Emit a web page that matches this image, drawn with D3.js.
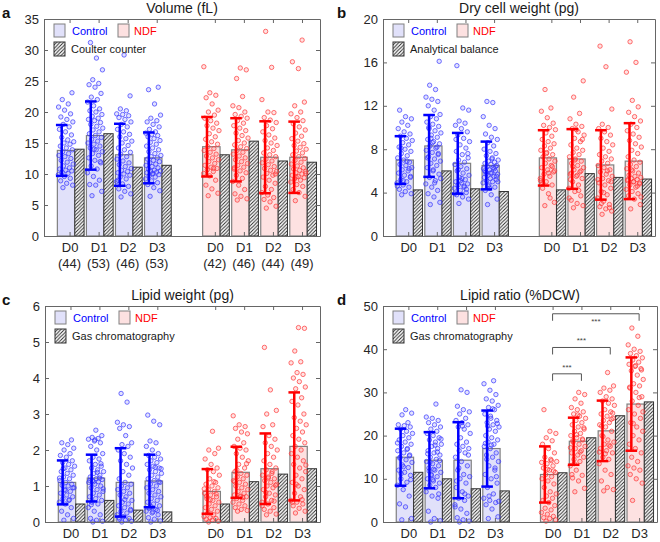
<!DOCTYPE html>
<html>
<head>
<meta charset="utf-8">
<script src="https://cdn.jsdelivr.net/npm/d3@7"></script>
<style>
    body { margin: 0; background: #fff; }
    svg { font-family: "Liberation Sans", Arial, sans-serif; }
</style>
</head>
<body>
<div id="chart"></div>
<script>
(function () {

    // Categories (Control D0..D3, then NDF D0..D3)
    var days = ['D0', 'D1', 'D2', 'D3', 'D0', 'D1', 'D2', 'D3'];
    var cellCounts = [44, 53, 46, 53, 42, 46, 44, 49];

    // a - Volume (fL)
    var volMean = [13.8, 16.2, 13.1, 12.6, 14.4, 13.9, 12.7, 12.7];
    var volSd = [4.1, 5.5, 5.0, 4.1, 4.8, 5.1, 5.8, 5.75];
    var volBulk = [14.0, 16.5, 11.1, 11.4, 13.1, 15.3, 12.1, 11.9];
    var volDots = [
        [7.8, 8.2, 8.5, 8.9, 9.3, 9.6, 9.9, 10.1, 10.3, 10.5, 10.6, 10.8, 11.0, 11.3, 11.6, 11.9, 12.2, 12.5, 12.8, 13.0, 13.3, 13.6, 13.9, 14.2, 14.5, 14.8, 15.0, 15.2, 15.5, 15.9, 16.3, 16.8, 17.2, 17.6, 18.0, 18.4, 18.8, 19.2, 19.7, 20.3, 20.8, 21.3, 22.0, 23.1],
        [6.5, 7.2, 8.2, 8.3, 9.0, 9.6, 10.2, 10.8, 11.3, 11.8, 12.2, 12.6, 13.0, 13.3, 13.6, 13.9, 14.2, 14.5, 14.8, 15.0, 15.3, 15.6, 15.9, 16.2, 16.5, 16.8, 17.1, 17.4, 17.7, 18.0, 18.3, 18.6, 18.8, 19.0, 19.3, 19.6, 20.0, 20.2, 20.5, 21.0, 21.6, 22.0, 22.4, 23.0, 24.0, 24.4, 24.6, 25.2, 26.8, 28.7, 31.2, 12.0, 14.0],
        [6.3, 6.8, 7.2, 7.6, 8.0, 8.4, 8.8, 9.2, 9.5, 9.8, 10.0, 10.2, 10.4, 10.6, 10.9, 11.2, 11.5, 11.8, 12.1, 12.4, 12.8, 13.2, 13.5, 13.9, 14.2, 14.6, 15.0, 15.3, 15.7, 16.0, 16.4, 16.8, 17.2, 17.6, 18.0, 18.4, 18.8, 19.1, 19.4, 19.6, 19.7, 20.2, 20.5, 22.6, 29.2, 9.0],
        [6.4, 7.3, 7.8, 8.3, 8.6, 8.9, 9.2, 9.5, 9.7, 9.9, 10.1, 10.2, 10.3, 10.4, 10.5, 10.6, 10.8, 11.0, 11.2, 11.4, 11.6, 11.8, 12.0, 12.2, 12.4, 12.6, 12.8, 13.0, 13.3, 13.6, 13.9, 14.2, 14.5, 14.8, 15.1, 15.4, 15.7, 16.0, 16.2, 16.4, 16.6, 16.8, 17.2, 17.6, 18.0, 18.4, 18.6, 19.0, 19.5, 21.3, 23.6, 24.0, 10.0],
        [6.5, 6.9, 7.6, 8.2, 9.0, 9.7, 10.1, 10.4, 10.7, 10.9, 11.1, 11.4, 11.7, 12.0, 12.3, 12.6, 12.9, 13.2, 13.5, 13.8, 14.1, 14.4, 14.8, 15.2, 15.6, 16.0, 16.5, 17.0, 17.4, 17.8, 18.2, 18.6, 19.0, 19.5, 20.0, 20.3, 21.3, 22.3, 22.7, 23.1, 27.3, 10.9],
        [5.8, 6.0, 6.4, 6.8, 7.5, 8.2, 8.8, 9.3, 9.8, 10.2, 10.5, 10.8, 11.1, 11.4, 11.7, 12.0, 12.3, 12.6, 12.9, 13.2, 13.5, 13.8, 14.1, 14.4, 14.7, 15.0, 15.4, 15.8, 16.2, 16.6, 17.0, 17.4, 17.8, 18.2, 18.6, 19.0, 19.3, 19.6, 20.0, 20.7, 21.0, 22.5, 25.4, 26.8, 27.1, 11.0],
        [4.5, 4.8, 5.5, 5.9, 6.2, 6.6, 7.0, 7.5, 8.0, 8.5, 9.0, 9.5, 9.8, 10.1, 10.4, 10.6, 10.9, 11.2, 11.5, 11.8, 12.1, 12.4, 12.8, 13.1, 13.4, 13.8, 14.2, 14.6, 15.0, 15.4, 15.8, 16.3, 16.8, 17.3, 17.8, 18.3, 18.7, 19.1, 19.9, 20.0, 22.0, 27.2, 33.0, 10.0],
        [5.7, 6.4, 7.0, 7.5, 8.0, 8.3, 8.7, 9.0, 9.2, 9.4, 9.6, 9.8, 10.0, 10.2, 10.4, 10.6, 10.8, 11.0, 11.3, 11.6, 11.9, 12.2, 12.5, 12.8, 13.1, 13.4, 13.7, 14.0, 14.3, 14.6, 14.9, 15.3, 15.7, 16.1, 16.6, 17.1, 17.6, 18.1, 18.6, 19.1, 19.7, 20.0, 21.0, 21.6, 27.0, 28.1, 31.6, 9.5, 10.1]
    ];

    // b - Dry cell weight (pg)
    var dcwMean = [7.0, 8.3, 6.7, 6.5, 7.2, 7.1, 6.55, 6.9];
    var dcwSd = [2.2, 2.85, 2.8, 2.2, 2.55, 2.75, 3.2, 3.5];
    var dcwBulk = [4.25, 6.0, 4.35, 4.1, 4.25, 5.75, 5.4, 5.25];
    var dcwDots = [
        [3.8, 3.9, 4.1, 4.3, 4.5, 4.7, 4.9, 5.0, 5.2, 5.4, 5.6, 5.8, 6.0, 6.1, 6.3, 6.5, 6.6, 6.8, 7.0, 7.2, 7.4, 7.6, 7.8, 8.0, 8.2, 8.4, 8.6, 8.8, 9.0, 9.2, 9.4, 9.6, 9.9, 10.2, 10.5, 10.8, 11.0, 11.6, 6.2, 5.1, 4.6, 6.9, 8.1, 5.5],
        [2.9, 3.1, 3.6, 3.9, 4.2, 4.5, 4.8, 5.1, 5.4, 5.7, 6.0, 6.3, 6.5, 6.7, 6.9, 7.1, 7.3, 7.5, 7.7, 7.9, 8.1, 8.3, 8.5, 8.7, 8.9, 9.1, 9.3, 9.5, 9.7, 9.9, 10.1, 10.3, 10.5, 10.8, 11.0, 11.2, 11.6, 12.0, 12.4, 12.6, 12.8, 13.5, 13.9, 16.1, 6.1, 7.2, 8.2, 9.0, 5.3, 4.9, 10.0, 7.6, 8.6],
        [3.0, 3.4, 3.6, 3.8, 4.0, 4.2, 4.4, 4.6, 4.7, 4.8, 4.9, 5.0, 5.2, 5.4, 5.6, 5.8, 6.0, 6.2, 6.4, 6.6, 6.8, 7.0, 7.2, 7.5, 7.8, 8.1, 8.4, 8.7, 9.0, 9.3, 9.6, 9.9, 10.2, 10.4, 10.6, 11.6, 11.8, 15.7, 4.3, 5.1, 3.9, 4.5, 6.1, 7.6, 5.3, 8.9],
        [2.9, 3.4, 3.8, 4.2, 4.5, 4.7, 4.9, 5.0, 5.1, 5.2, 5.3, 5.4, 5.5, 5.6, 5.7, 5.8, 5.9, 6.0, 6.1, 6.2, 6.3, 6.4, 6.5, 6.6, 6.7, 6.8, 6.9, 7.0, 7.2, 7.4, 7.6, 7.8, 8.0, 8.3, 8.6, 8.9, 9.1, 9.4, 9.9, 10.2, 11.0, 12.3, 12.4, 5.5, 5.8, 6.0, 6.2, 4.6, 5.0, 7.1, 5.7, 6.4, 4.4],
        [2.8, 3.1, 3.9, 4.4, 4.7, 5.0, 5.3, 5.5, 5.7, 5.9, 6.1, 6.3, 6.5, 6.7, 6.9, 7.1, 7.3, 7.5, 7.7, 7.9, 8.1, 8.3, 8.5, 8.7, 8.9, 9.2, 9.5, 9.8, 10.0, 10.2, 10.4, 10.9, 11.5, 11.8, 13.5, 6.0, 5.8, 4.9, 6.4, 7.6, 5.1, 3.5],
        [2.6, 2.8, 3.0, 3.3, 3.7, 4.1, 4.4, 4.7, 5.0, 5.3, 5.5, 5.7, 5.9, 6.1, 6.3, 6.5, 6.7, 6.9, 7.1, 7.3, 7.5, 7.7, 7.9, 8.1, 8.4, 8.7, 9.0, 9.3, 9.6, 9.9, 10.1, 10.3, 10.8, 11.3, 12.8, 14.3, 5.6, 5.8, 6.0, 7.0, 3.5, 4.2, 6.4, 8.9, 9.8, 5.2],
        [2.0, 2.3, 2.5, 2.7, 2.9, 3.2, 3.5, 3.8, 4.1, 4.4, 4.7, 4.9, 5.1, 5.3, 5.5, 5.7, 5.9, 6.1, 6.3, 6.5, 6.7, 6.9, 7.1, 7.3, 7.5, 7.8, 8.1, 8.4, 8.7, 9.0, 9.3, 9.6, 9.9, 10.0, 10.3, 11.7, 15.6, 17.5, 2.6, 4.0, 5.2, 6.0, 3.0, 5.0],
        [2.5, 2.9, 3.4, 3.7, 3.9, 4.1, 4.3, 4.5, 4.7, 4.9, 5.0, 5.1, 5.2, 5.3, 5.4, 5.5, 5.6, 5.8, 6.0, 6.2, 6.4, 6.6, 6.8, 7.0, 7.3, 7.6, 7.9, 8.2, 8.5, 8.8, 9.1, 9.4, 9.7, 10.0, 10.3, 10.6, 11.0, 11.4, 11.9, 12.5, 15.1, 16.0, 17.9, 4.8, 5.0, 5.2, 4.6, 6.1, 3.6]
    ];

    // c - Lipid weight (pg)
    var lipMean = [1.1, 1.22, 1.1, 1.14, 0.85, 1.38, 1.48, 2.1];
    var lipSd = [0.61, 0.65, 0.95, 0.73, 0.62, 0.71, 0.98, 1.5];
    var lipBulk = [0.5, 0.6, 0.33, 0.28, 0.5, 1.12, 1.33, 1.48];
    var lipDots = [
        [0.05, 0.1, 0.2, 0.3, 0.4, 0.5, 0.55, 0.6, 0.65, 0.7, 0.75, 0.8, 0.85, 0.9, 0.95, 1.0, 1.02, 1.05, 1.1, 1.15, 1.2, 1.25, 1.3, 1.35, 1.4, 1.45, 1.5, 1.55, 1.6, 1.65, 1.7, 1.8, 1.85, 1.9, 2.0, 2.05, 2.15, 2.2, 2.28, 0.88, 1.22, 0.62, 1.48, 0.95],
        [0.0, 0.02, 0.05, 0.1, 0.2, 0.3, 0.4, 0.5, 0.55, 0.6, 0.65, 0.7, 0.75, 0.8, 0.85, 0.9, 0.95, 1.0, 1.05, 1.1, 1.12, 1.15, 1.18, 1.2, 1.25, 1.3, 1.35, 1.4, 1.45, 1.5, 1.55, 1.6, 1.7, 1.75, 1.8, 1.9, 2.0, 2.1, 2.2, 2.25, 2.3, 2.32, 2.35, 2.4, 2.55, 1.15, 1.22, 1.12, 0.92, 1.38, 0.48, 1.62, 2.28],
        [0.0, 0.02, 0.05, 0.08, 0.1, 0.15, 0.2, 0.25, 0.3, 0.35, 0.4, 0.45, 0.5, 0.55, 0.6, 0.7, 0.75, 0.8, 0.85, 0.9, 0.95, 1.0, 1.05, 1.1, 1.2, 1.3, 1.4, 1.5, 1.6, 1.7, 1.8, 1.9, 2.0, 2.1, 2.15, 2.2, 2.4, 2.6, 2.65, 2.7, 2.77, 3.33, 3.57, 0.32, 0.62, 0.12],
        [0.0, 0.03, 0.08, 0.12, 0.2, 0.25, 0.3, 0.35, 0.4, 0.45, 0.5, 0.55, 0.6, 0.65, 0.7, 0.75, 0.8, 0.85, 0.9, 0.95, 1.0, 1.05, 1.1, 1.15, 1.2, 1.25, 1.3, 1.35, 1.4, 1.45, 1.5, 1.55, 1.6, 1.65, 1.7, 1.75, 1.8, 1.85, 1.9, 2.0, 2.1, 2.2, 2.25, 2.7, 2.8, 2.97, 0.32, 0.42, 1.48, 1.52, 0.38, 1.12, 0.28],
        [0.0, 0.02, 0.05, 0.08, 0.1, 0.12, 0.15, 0.2, 0.25, 0.3, 0.35, 0.4, 0.45, 0.5, 0.55, 0.6, 0.65, 0.7, 0.75, 0.8, 0.85, 0.9, 0.95, 1.0, 1.05, 1.1, 1.2, 1.3, 1.4, 1.45, 1.5, 1.6, 1.75, 1.9, 2.0, 2.05, 2.52, 0.72, 0.78, 0.62, 0.92, 1.12],
        [0.3, 0.32, 0.35, 0.4, 0.45, 0.5, 0.55, 0.6, 0.65, 0.7, 0.72, 0.75, 0.8, 0.85, 0.9, 0.95, 1.0, 1.05, 1.1, 1.15, 1.2, 1.25, 1.3, 1.35, 1.4, 1.5, 1.6, 1.7, 1.8, 1.9, 2.0, 2.05, 2.1, 2.2, 2.3, 2.45, 2.5, 2.6, 2.65, 2.7, 2.95, 0.68, 1.45, 1.62, 0.7, 1.12],
        [0.2, 0.22, 0.3, 0.35, 0.4, 0.5, 0.55, 0.6, 0.7, 0.75, 0.8, 0.9, 0.95, 1.0, 1.05, 1.1, 1.15, 1.2, 1.25, 1.3, 1.4, 1.45, 1.5, 1.6, 1.7, 1.8, 1.9, 2.0, 2.1, 2.2, 2.3, 2.4, 2.65, 2.7, 3.0, 3.1, 3.67, 4.85, 0.58, 1.22, 0.45, 1.35, 0.82, 1.02],
        [0.25, 0.3, 0.38, 0.45, 0.5, 0.55, 0.6, 0.7, 0.8, 0.9, 1.0, 1.1, 1.2, 1.3, 1.4, 1.5, 1.6, 1.7, 1.8, 1.9, 2.0, 2.1, 2.2, 2.3, 2.4, 2.5, 2.6, 2.7, 2.8, 2.9, 3.0, 3.25, 3.35, 3.45, 3.7, 3.75, 3.9, 4.0, 4.1, 4.15, 4.42, 4.45, 4.75, 5.38, 5.4, 0.55, 0.62, 1.05, 1.58]
    ];

    // d - Lipid ratio (%DCW)
    var ratMean = [15.0, 14.3, 14.3, 17.0, 11.0, 18.7, 21.1, 27.3];
    var ratSd = [6.6, 6.5, 8.8, 8.8, 6.5, 5.45, 7.0, 10.8];
    var ratBulk = [11.5, 10.0, 7.7, 7.2, 11.4, 19.5, 24.6, 27.8];
    var ratDots = [
        [0.5, 0.8, 3.5, 4.2, 6.0, 7.5, 8.5, 9.2, 10.0, 10.8, 11.5, 12.0, 12.6, 13.2, 13.8, 14.4, 15.0, 15.5, 16.0, 16.5, 17.0, 17.5, 18.0, 18.5, 19.0, 19.5, 20.0, 20.5, 21.0, 21.5, 22.0, 22.3, 22.5, 23.0, 24.8, 25.2, 26.0, 14.8, 15.3, 12.8, 18.3, 16.8, 11.2, 9.8],
        [0.0, 0.3, 0.8, 2.5, 5.5, 6.0, 7.0, 8.0, 8.5, 9.0, 9.5, 10.0, 10.5, 11.0, 11.5, 12.0, 12.5, 13.0, 13.5, 14.0, 14.5, 15.0, 15.5, 16.0, 16.5, 17.0, 17.5, 18.0, 18.5, 19.0, 19.5, 20.0, 20.5, 21.0, 21.5, 22.0, 22.5, 23.0, 23.5, 24.0, 24.3, 27.3, 13.8, 14.2, 12.2, 15.8, 16.2, 10.8, 19.2, 17.8, 11.8, 6.5, 9.8],
        [0.0, 0.2, 0.5, 1.0, 2.0, 3.0, 4.0, 5.0, 5.5, 6.0, 7.0, 8.0, 9.0, 10.0, 10.5, 11.0, 12.0, 13.0, 14.0, 15.0, 16.0, 16.5, 17.0, 17.5, 18.0, 18.5, 19.5, 20.5, 21.5, 22.0, 22.5, 23.0, 23.5, 24.0, 25.0, 25.5, 26.0, 26.8, 30.0, 30.6, 3.5, 6.5, 12.5, 15.5, 22.2, 9.5],
        [0.8, 1.2, 3.0, 4.0, 4.5, 5.0, 5.5, 6.5, 8.0, 9.0, 10.0, 11.0, 12.0, 13.0, 14.0, 15.0, 15.5, 16.0, 17.0, 17.5, 18.0, 18.5, 19.0, 19.5, 20.0, 21.0, 21.5, 22.0, 22.5, 23.0, 23.5, 24.0, 25.0, 26.0, 26.5, 27.0, 28.0, 28.5, 29.5, 30.5, 32.0, 32.7, 22.2, 22.8, 17.8, 18.2, 12.5, 6.0, 4.8, 26.2, 14.5, 10.5, 24.5],
        [0.2, 0.5, 0.8, 1.0, 1.3, 1.8, 2.2, 2.8, 3.2, 3.8, 4.5, 5.0, 5.5, 6.0, 6.5, 7.0, 8.0, 8.8, 9.5, 10.0, 10.5, 11.0, 11.5, 12.0, 12.5, 13.0, 13.5, 14.0, 14.5, 15.0, 16.0, 17.0, 18.0, 18.8, 19.5, 20.5, 21.0, 26.0, 11.8, 12.2, 13.8, 14.2],
        [7.0, 7.8, 9.5, 10.2, 10.8, 12.0, 13.0, 14.0, 14.5, 15.0, 15.5, 16.0, 16.5, 17.0, 17.5, 18.0, 18.5, 19.0, 19.5, 20.0, 20.5, 21.0, 21.5, 22.0, 22.5, 23.0, 23.5, 24.0, 24.5, 25.0, 25.5, 26.0, 26.5, 27.5, 28.5, 29.5, 30.0, 18.8, 19.2, 20.2, 17.2, 16.2, 13.5, 21.8, 24.8, 11.0],
        [7.2, 7.5, 8.0, 9.5, 11.0, 12.0, 13.5, 14.5, 15.0, 16.0, 16.5, 17.0, 17.5, 18.0, 18.5, 19.0, 20.0, 21.0, 22.0, 22.5, 23.0, 23.5, 24.0, 24.5, 25.0, 25.5, 26.0, 27.0, 27.5, 28.0, 28.5, 29.0, 30.0, 30.5, 31.0, 31.5, 34.6, 22.2, 23.8, 15.8, 16.2, 17.8, 19.8, 25.2],
        [5.0, 9.0, 10.0, 11.0, 12.0, 12.5, 13.0, 14.0, 15.0, 16.0, 17.0, 18.0, 19.0, 20.0, 21.0, 22.0, 23.0, 24.0, 25.0, 26.0, 27.0, 28.0, 29.0, 30.0, 31.0, 31.5, 32.0, 33.0, 34.0, 35.0, 35.5, 36.0, 36.5, 37.0, 37.5, 38.0, 38.5, 39.0, 39.5, 40.0, 41.0, 43.0, 44.9, 35.2, 36.2, 31.2, 28.8, 22.8, 25.5]
    ];

    // significance brackets in d: [from, to, height, label]
    var ratSig = [[4, 5, 34.3, '***'], [4, 6, 40.4, '***'], [4, 7, 48.2, '***']];

    // x positions of the eight bars (gap between the two groups)
    var pos = [1, 2, 3, 4, 6, 7, 8, 9];

    // colours
    var barFill = ['#e1e1fa', '#fde1e1'];
    var lineCol = ['#0000ff', '#ff0000'];
    var dotCol = ['#3a3aff', '#ff3a3a'];

    var panels = [
        {letter: 'a', title: 'Volume (fL)', method: 'Coulter counter',
         left: 44, right: 320, top: 19, bottom: 236, ymax: 35, ticks: d3.range(0, 36, 5),
         mean: volMean, sd: volSd, bulk: volBulk, dots: volDots, counts: true},
        {letter: 'b', title: 'Dry cell weight (pg)', method: 'Analytical balance',
         left: 383, right: 655, top: 19, bottom: 236, ymax: 20, ticks: d3.range(0, 21, 4),
         mean: dcwMean, sd: dcwSd, bulk: dcwBulk, dots: dcwDots},
        {letter: 'c', title: 'Lipid weight (pg)', method: 'Gas chromatography',
         left: 45, right: 320, top: 306, bottom: 522, ymax: 6, ticks: d3.range(0, 7, 1),
         mean: lipMean, sd: lipSd, bulk: lipBulk, dots: lipDots},
        {letter: 'd', title: 'Lipid ratio (%DCW)', method: 'Gas chromatography',
         left: 383, right: 657, top: 306, bottom: 522, ymax: 50, ticks: d3.range(0, 51, 10),
         mean: ratMean, sd: ratSd, bulk: ratBulk, dots: ratDots, sig: ratSig}
    ];

    // Create a root <svg> element
    var svg = d3.select('#chart')
        .append('svg')
        .attr('width', 660)
        .attr('height', 542);

    // hatch pattern for the bulk measurement bars
    var pat = svg.append('defs')
        .append('pattern')
        .attr('id', 'hatch')
        .attr('patternUnits', 'userSpaceOnUse')
        .attr('width', 3.5)
        .attr('height', 3.5);
    pat.append('rect').attr('width', 3.5).attr('height', 3.5).attr('fill', '#fff');
    pat.append('path')
        .attr('d', 'M-1,1 l2,-2 M0,3.5 l3.5,-3.5 M2.5,4.5 l2,-2')
        .attr('stroke', '#222')
        .attr('stroke-width', 0.9);

    var drawPanel = function (p) {
        var x = d3.scaleLinear().domain([0.12, 9.62]).range([p.left, p.right]);
        var y = d3.scaleLinear().domain([0, p.ymax]).range([p.bottom, p.top]);
        var g = svg.append('g');
        var grp = function (i) { return i < 4 ? 0 : 1; };

        // mean bars
        g.selectAll('rect.mean')
            .data(p.mean)
            .enter()
            .append('rect')
            .attr('x', function (d, i) { return x(pos[i] - 0.42); })
            .attr('width', x(0.6) - x(0))
            .attr('y', function (d) { return y(d); })
            .attr('height', function (d) { return y(0) - y(d); })
            .attr('fill', function (d, i) { return barFill[grp(i)]; })
            .attr('stroke', '#808080')
            .attr('stroke-width', 1.2);

        // bulk bars
        g.selectAll('rect.bulk')
            .data(p.bulk)
            .enter()
            .append('rect')
            .attr('x', function (d, i) { return x(pos[i] + 0.18); })
            .attr('width', x(0.32) - x(0))
            .attr('y', function (d) { return y(d); })
            .attr('height', function (d) { return y(0) - y(d); })
            .attr('fill', 'url(#hatch)')
            .attr('stroke', '#333')
            .attr('stroke-width', 1);

        // single cell dots (spread across the mean bar)
        p.dots.forEach(function (vals, i) {
            g.append('g')
                .selectAll('circle')
                .data(vals)
                .enter()
                .append('circle')
                .attr('cx', function (d, k) { return x(pos[i] - 0.12 + 0.27 * (((k * 0.618034 + 0.3) % 1) * 2 - 1)); })
                .attr('cy', function (d) { return y(d); })
                .attr('r', 2.2)
                .attr('fill', dotCol[grp(i)])
                .attr('fill-opacity', 0.15)
                .attr('stroke', dotCol[grp(i)])
                .attr('stroke-opacity', 0.8)
                .attr('stroke-width', 0.9);
        });

        // error bars (mean +- sd)
        p.mean.forEach(function (m, i) {
            var ex = x(pos[i] - 0.27);
            var col = lineCol[grp(i)];
            var lo = Math.max(0, m - p.sd[i]);
            var hi = m + p.sd[i];
            var eb = g.append('g')
                .attr('stroke', col)
                .attr('stroke-width', 2.5);
            eb.append('line').attr('x1', ex).attr('x2', ex).attr('y1', y(lo)).attr('y2', y(hi));
            eb.append('line').attr('x1', ex - 5.8).attr('x2', ex + 5.8).attr('y1', y(lo)).attr('y2', y(lo));
            eb.append('line').attr('x1', ex - 5.8).attr('x2', ex + 5.8).attr('y1', y(hi)).attr('y2', y(hi));
        });

        // significance brackets
        if (p.sig) {
            p.sig.forEach(function (s) {
                var x1 = x(pos[s[0]]);
                var x2 = x(pos[s[1]]);
                var yy = y(s[2]);
                g.append('path')
                    .attr('d', 'M' + x1 + ',' + (yy + 7) + 'V' + yy + 'H' + x2 + 'V' + (yy + 7))
                    .attr('fill', 'none')
                    .attr('stroke', '#555')
                    .attr('stroke-width', 1);
                var below = yy - 12 < p.top;
                g.append('text')
                    .attr('x', (x1 + x2) / 2)
                    .attr('y', below ? yy + 10 : yy - 4)
                    .attr('text-anchor', 'middle')
                    .attr('font-size', 8)
                    .attr('fill', '#444')
                    .text(s[3]);
            });
        }

        // frame with inward ticks
        var styleAxis = function (a) {
            a.selectAll('path, line').attr('stroke', '#666');
            a.selectAll('text')
                .attr('font-size', 13)
                .attr('font-family', '"Liberation Sans", Arial, sans-serif')
                .attr('fill', '#262626');
        };
        g.append('g')
            .attr('transform', 'translate(' + p.left + ',0)')
            .call(d3.axisLeft(y).tickValues(p.ticks).tickSizeInner(-4).tickSizeOuter(0).tickPadding(5)
                .tickFormat(d3.format('d')))
            .call(styleAxis);
        g.append('g')
            .attr('transform', 'translate(' + p.right + ',0)')
            .call(d3.axisRight(y).tickValues(p.ticks).tickSizeInner(-4).tickSizeOuter(0).tickFormat(''))
            .call(styleAxis);
        g.append('g')
            .attr('transform', 'translate(0,' + p.top + ')')
            .call(d3.axisTop(x).tickValues(pos).tickSizeInner(-4).tickSizeOuter(0).tickFormat(''))
            .call(styleAxis);
        g.append('g')
            .attr('transform', 'translate(0,' + p.bottom + ')')
            .call(d3.axisBottom(x).tickValues(pos).tickSizeInner(-4).tickSizeOuter(0).tickPadding(7)
                .tickFormat(function (d, i) { return days[i]; }))
            .call(styleAxis);

        // cell counts under the labels
        if (p.counts) {
            g.selectAll('text.count')
                .data(cellCounts)
                .enter()
                .append('text')
                .attr('x', function (d, i) { return x(pos[i]); })
                .attr('y', p.bottom + 32)
                .attr('text-anchor', 'middle')
                .attr('font-size', 13)
                .attr('fill', '#262626')
                .text(function (d) { return '(' + d + ')'; });
        }

        // title and panel letter
        g.append('text')
            .attr('x', (p.left + p.right) / 2)
            .attr('y', p.top - 6)
            .attr('text-anchor', 'middle')
            .attr('font-size', 14)
            .attr('fill', '#1a1a1a')
            .text(p.title);
        g.append('text')
            .attr('x', p.left < 100 ? 2 : 337)
            .attr('y', p.top - 1)
            .attr('font-size', 15)
            .attr('font-weight', 'bold')
            .attr('fill', '#111')
            .text(p.letter);

        // legend
        var lg = g.append('g')
            .attr('transform', 'translate(' + (p.left + 10) + ',' + (p.top + 5) + ')')
            .attr('font-size', 11);
        lg.append('rect').attr('width', 11).attr('height', 13)
            .attr('fill', barFill[0]).attr('stroke', '#808080');
        lg.append('text').attr('x', 18).attr('y', 11).attr('fill', lineCol[0]).text('Control');
        lg.append('rect').attr('x', 64).attr('width', 11).attr('height', 13)
            .attr('fill', barFill[1]).attr('stroke', '#808080');
        lg.append('text').attr('x', 80).attr('y', 11).attr('fill', lineCol[1]).text('NDF');
        lg.append('rect').attr('y', 18).attr('width', 11).attr('height', 14)
            .attr('fill', 'url(#hatch)').attr('stroke', '#333');
        lg.append('text').attr('x', 17).attr('y', 29).attr('fill', '#1a1a1a').text(p.method);
    };

    panels.forEach(drawPanel);

})();
</script>
</body>
</html>
